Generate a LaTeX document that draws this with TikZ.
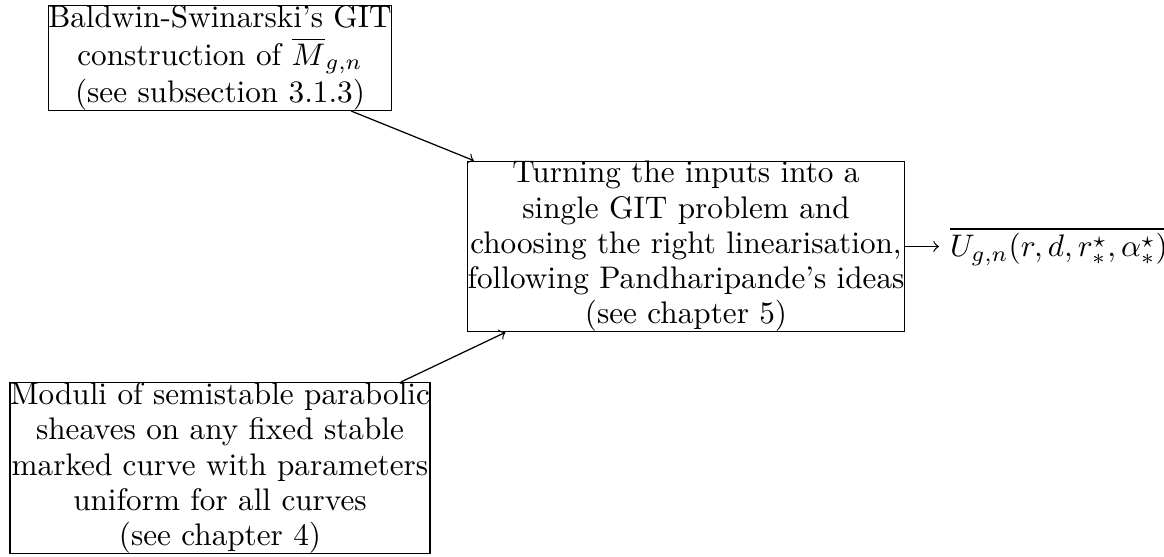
\documentclass[tikz,border=0pt]{standalone}
\usepackage{amsmath}
\begin{document}
\begin{tikzpicture}[x=0.3205pt, y=-0.3205pt,
  stage/.style={draw, align=center, inner sep=0pt},
  tight/.style={font=\fontsize{10}{11.3}\selectfont},
  result/.style={inner sep=3.33pt, anchor=west},
  flow/.style={->}]
  \useasboundingbox (0,0) rectangle (1164,556);
  \node[stage] (bs) at (220,58) {Baldwin-Swinarski's GIT\\ construction of $\overline{M}_{g,n}$\\ (see subsection 3.1.3)};
  \node[stage, tight] (git) at (686,246.5) {Turning the inputs into a\\ single GIT problem and\\ choosing the right linearisation,\\ following Pandharipande's ideas\\ (see chapter 5)};
  \node[stage, tight] (mod) at (220,468) {Moduli of semistable parabolic\\ sheaves on any fixed stable\\ marked curve with parameters\\ uniform for all curves\\ (see chapter 4)};
  \node[result] (out) at (939,246.5) {$\overline{U_{g,n}(r,d,r^\star_*,\alpha^\star_*)}$};
  \draw[flow] (bs) -- (git);
  \draw[flow] (mod) -- (git);
  \draw[flow] (git) -- (out);
\end{tikzpicture}
\end{document}
